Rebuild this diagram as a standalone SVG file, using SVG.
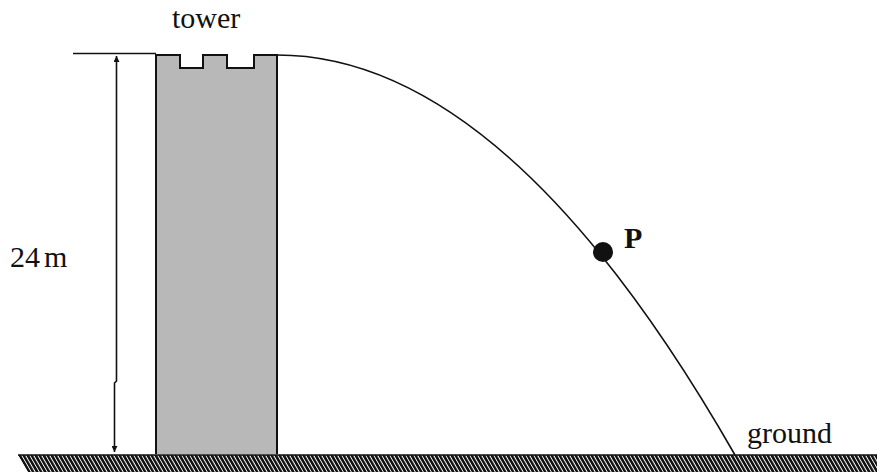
<svg xmlns="http://www.w3.org/2000/svg" width="877" height="475" viewBox="0 0 877 475">
<style>
.t{font-family:"Liberation Serif","Times New Roman",serif;font-size:30px;fill:#111}
.ln{fill:none;stroke:#111;stroke-width:1.6}
</style>
<defs>
<pattern id="hatch" patternUnits="userSpaceOnUse" width="8" height="20" patternTransform="translate(18 455) skewX(30)">
<rect x="0" y="0" width="3" height="20" fill="#111"/>
<rect x="4" y="0" width="2.8" height="20" fill="#111"/>
</pattern>
<marker id="ah" viewBox="0 0 10 10" refX="10" refY="5" markerWidth="6" markerHeight="6" markerUnits="userSpaceOnUse" orient="auto-start-reverse">
<path d="M0,0 L10,5 L0,10 z" fill="#111"/>
</marker>
</defs>
<rect width="877" height="475" fill="#fff"/>
<g id="ground">
<path d="M18 455 H877 V472 H28 Z" fill="url(#hatch)"/>
<line x1="18" y1="455" x2="877" y2="455" stroke="#111" stroke-width="1.6"/>
<text class="t" x="747" y="443" font-size="31">ground</text>
</g>
<g id="tower">
<path d="M156 454 V55 H180 V68 H203 V55 H227 V68 H254 V55 H277 V454" fill="#b8b8b8" stroke="#111" stroke-width="2"/>
<text class="t" x="172" y="28" font-size="31">tower</text>
</g>
<g id="connectors">
<line x1="73" y1="53.5" x2="156" y2="53.5" stroke="#111" stroke-width="1.6"/>
<path class="ln" d="M116.5 56 V381 L114.5 383 V452" marker-start="url(#ah)" marker-end="url(#ah)"/>
<path class="ln" d="M277 55 Q506 55 735 455"/>
</g>
<g id="height-label">
<text class="t" x="10" y="267" font-size="31">24<tspan dx="4">m</tspan></text>
</g>
<g id="point-P">
<circle cx="603" cy="252" r="10" fill="#111"/>
<text class="t" x="624" y="248" font-weight="bold">P</text>
</g>
</svg>
